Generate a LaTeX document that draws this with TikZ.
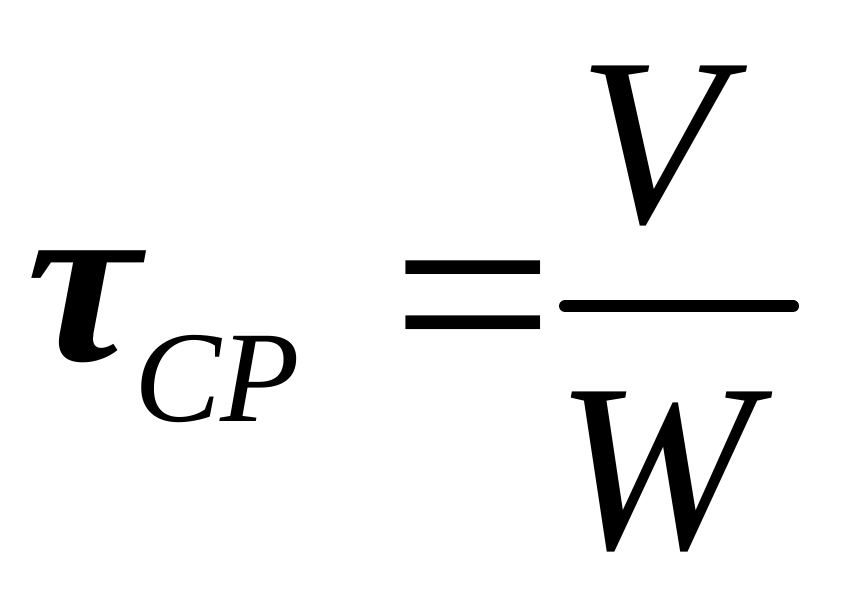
\documentclass[tikz,border=0pt]{standalone}
\usepackage{fontspec}
\setmainfont{Liberation Serif}
\begin{document}
\begin{tikzpicture}[x=0.01cm,y=-0.01cm,
  glyph/.style={inner sep=0pt,outer sep=0pt,font=\fontsize{68}{80}\selectfont},
  small/.style={inner sep=0pt,outer sep=0pt,font=\fontsize{37}{44}\selectfont\itshape}]
\useasboundingbox (0,0) rectangle (843,593);
\node[glyph,font=\fontsize{68}{80}\selectfont\bfseries\itshape,anchor=base west,xscale=1.07] (tau) at (26,360) {τ};
\node[small,anchor=base west] (sub) at (134,421) {CP};
\node[glyph,anchor=base west,xscale=1.21,yscale=1.15] (eq) at (391,386) {=};
\node[glyph,font=\fontsize{68}{80}\selectfont\itshape,anchor=base] (num) at (652,222) {V};
\node[glyph,font=\fontsize{68}{80}\selectfont\itshape,anchor=base] (den) at (655,548) {W};
\coordinate (barL) at (565,306);
\coordinate (barR) at (793,306);
\draw[line width=0.12cm,line cap=round] (barL) -- (barR);
\end{tikzpicture}
\end{document}
